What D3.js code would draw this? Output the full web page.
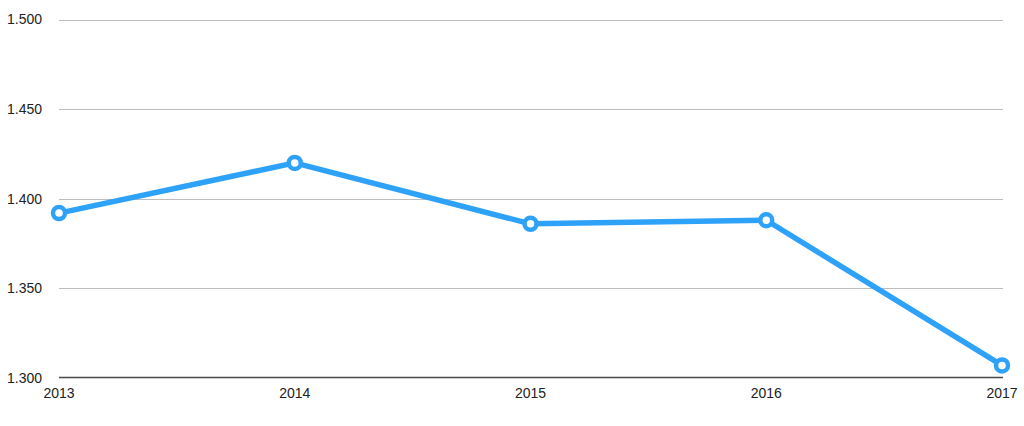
<!DOCTYPE html>
<html><head><meta charset="utf-8">
<script src="https://cdn.jsdelivr.net/npm/d3@7"></script>
<style>body{margin:0;background:#fff}svg{display:block}</style>
</head><body><svg id="c" width="1024" height="426"></svg>
<script>
const years = ["2013","2014","2015","2016","2017"];
const values = [1.392, 1.420, 1.386, 1.388, 1.307];
const yTicks = [1.300, 1.350, 1.400, 1.450, 1.500];
const yTickLabels = ["1.300","1.350","1.400","1.450","1.500"];

const svg = d3.select("#c");
const m = {left:59, right:1002, top:19.5, bottom:378};
const x = d3.scalePoint().domain(years).range([m.left, m.right]);
const y = d3.scaleLinear().domain([1.3, 1.5]).range([m.bottom, m.top]);
const font = "'Liberation Sans', Arial, Helvetica, sans-serif";

const grid = svg.append("g");
yTicks.forEach((t,i) => {
  if (i === 0) return;
  grid.append("line").attr("x1", m.left).attr("x2", m.right + 1)
    .attr("y1", Math.round(y(t)) + 0.5).attr("y2", Math.round(y(t)) + 0.5)
    .attr("stroke", "#bdbdbd").attr("stroke-width", 1.2);
});
svg.append("line").attr("x1", m.left).attr("x2", m.right + 1)
  .attr("y1", Math.round(y(1.3)) - 0.5).attr("y2", Math.round(y(1.3)) - 0.5)
  .attr("stroke", "#4a4a4a").attr("stroke-width", 1.3);

svg.append("g").selectAll("text").data(yTicks).join("text")
  .attr("x", 42).attr("y", d => y(d)).attr("dy", "0.35em")
  .attr("text-anchor", "end").attr("font-family", font).attr("font-size", 14)
  .attr("fill", "#222").text((d,i) => yTickLabels[i]);

svg.append("g").selectAll("text").data(years).join("text")
  .attr("x", d => x(d)).attr("y", 393).attr("dy", "0.35em")
  .attr("text-anchor", "middle").attr("font-family", font).attr("font-size", 14)
  .attr("fill", "#222").text(d => d);

const color = "#2ea2f8";
const line = d3.line().x((d,i) => x(years[i])).y(d => y(d));
svg.append("path").datum(values).attr("d", line).attr("fill", "none")
  .attr("stroke", color).attr("stroke-width", 5.5).attr("stroke-linejoin", "round");
svg.append("g").selectAll("circle").data(values).join("circle")
  .attr("cx", (d,i) => x(years[i])).attr("cy", d => y(d)).attr("r", 6)
  .attr("fill", "#fff").attr("stroke", color).attr("stroke-width", 4.5);
</script></body></html>
